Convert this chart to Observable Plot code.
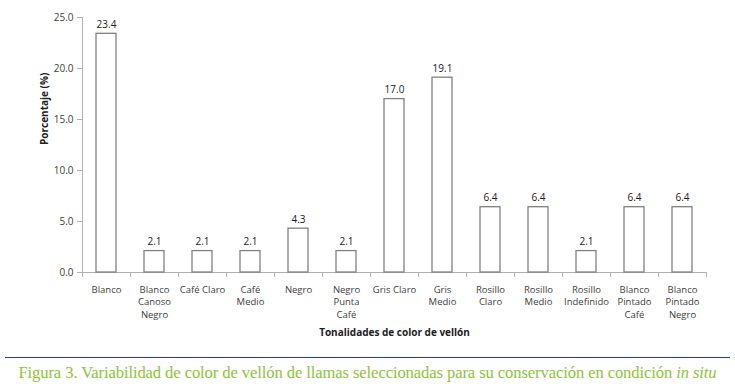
<!DOCTYPE html>
<html><head><meta charset="utf-8">
<script src="https://cdn.jsdelivr.net/npm/d3@7"></script>
<script src="https://cdn.jsdelivr.net/npm/@observablehq/plot@0.6"></script>
<style>
body{margin:0;background:#fff;width:735px;overflow:hidden}
#sep{margin:5px 5px 0 5px;border-top:1.5px solid #1f3f8f;height:0}
#cap{font-family:"Liberation Serif","DejaVu Serif",serif;font-size:16.6px;color:#8cc43c;text-align:center;margin-top:5px;letter-spacing:-0.1px;white-space:nowrap}
</style></head><body>
<div id="chart"></div>
<div id="sep"></div>
<div id="cap">Figura 3. Variabilidad de color de vellón de llamas seleccionadas para su conservación en condición <i>in situ</i></div>
<script>
const categories = ["Blanco","Blanco\nCanoso\nNegro","Café Claro","Café\nMedio","Negro","Negro\nPunta\nCafé","Gris Claro","Gris\nMedio","Rosillo\nClaro","Rosillo\nMedio","Rosillo\nIndefinido","Blanco\nPintado\nCafé","Blanco\nPintado\nNegro"];
const values = [23.4,2.1,2.1,2.1,4.3,2.1,17.0,19.1,6.4,6.4,2.1,6.4,6.4];
const yTicks = [0,5,10,15,20,25];
const data = categories.map((c,i)=>({cat:c,val:values[i]}));
const step = 48;
const font = "'Open Sans', 'Noto Sans', sans-serif";
const chart = Plot.plot({
  width:735, height:352,
  marginLeft:82, marginRight:29, marginTop:17, marginBottom:80,
  style:{fontFamily:font, fontSize:"9.5px", color:"#404040", background:"#fff"},
  x:{domain:categories, paddingInner:0.58, paddingOuter:0.29, label:null},
  y:{domain:[0,25], label:null},
  marks:[
    Plot.frame({anchor:"left", stroke:"#b0b0b0"}),
    Plot.axisY({ticks:yTicks, tickFormat:d=>d.toFixed(1), tickSize:5, tickPadding:4, stroke:"#b0b0b0", fill:"#404040", fontSize:10}),
    Plot.axisX({tickSize:0, tickPadding:11, fill:"#404040", fontSize:9.5, lineHeight:1.35}),
    Plot.ruleX(categories,{x:d=>d, y1:0, y2:-0.5, dx:-step/2, stroke:"#b0b0b0"}),
    Plot.ruleX([categories[categories.length-1]],{x:d=>d, y1:0, y2:-0.5, dx:step/2, stroke:"#b0b0b0"}),
    Plot.ruleY([0],{stroke:"#b0b0b0"}),
    Plot.barY(data,{x:"cat", y:"val", fill:"white", stroke:"#808080", strokeWidth:1.3}),
    Plot.text(data,{x:"cat", y:"val", text:d=>d.val.toFixed(1), dy:-9, fill:"#202020", fontSize:10}),
    Plot.text(["Porcentaje (%)"],{frameAnchor:"left", dx:-38, rotate:-90, fontWeight:"bold", fill:"#202020", fontSize:10}),
    Plot.text(["Tonalidades de color de vellón"],{frameAnchor:"bottom", dy:63, fontWeight:"bold", fill:"#202020", fontSize:10})
  ]
});
document.getElementById("chart").appendChild(chart);
</script>
</body></html>
